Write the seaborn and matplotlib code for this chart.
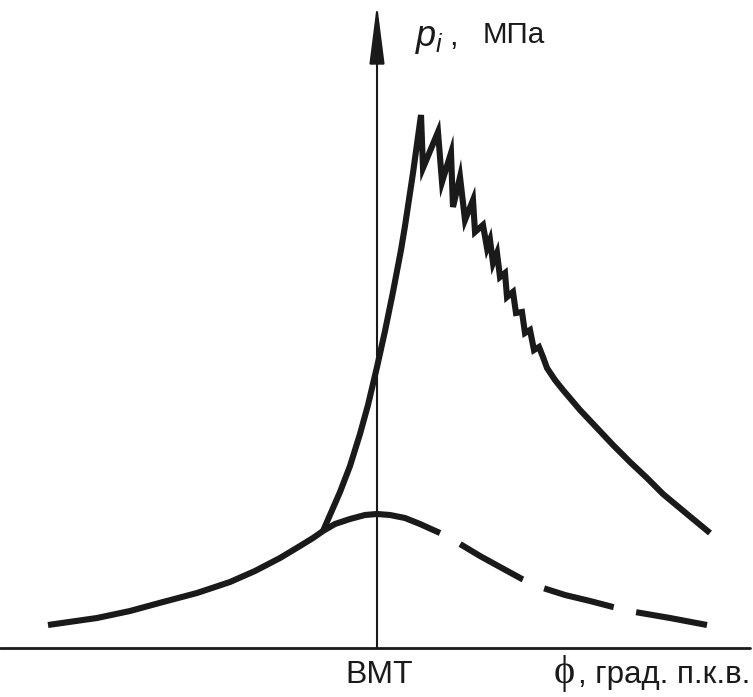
import matplotlib
matplotlib.use("Agg")
import matplotlib.pyplot as plt
import seaborn as sns
import pandas as pd

# ---- data: crank angle phi (deg from TDC), indicated pressure p (MPa) ----
# motoring (compression-expansion without combustion): solid part
motor_phi_solid = [-109.67, -93.33, -82.33, -71.33, -60.0, -49.0, -40.67, -32.33,
                   -25.67, -21.33, -18.0, -14.0, -9.0, -4.0, 0.0, 4.33, 9.33,
                   14.33, 21.0]
motor_p_solid = [0.46, 0.60, 0.74, 0.92, 1.10, 1.32, 1.54, 1.80,
                 2.04, 2.20, 2.34, 2.48, 2.58, 2.66, 2.68, 2.66, 2.60,
                 2.48, 2.30]
# motoring: dashed continuation
motor_phi_dash = [21.0, 27.67, 34.33, 41.0, 48.33, 55.33, 62.67, 71.0, 78.67,
                  86.0, 97.67, 110.0]
motor_p_dash = [2.30, 2.08, 1.84, 1.62, 1.38, 1.20, 1.06, 0.94, 0.82,
                0.72, 0.60, 0.46]

# firing cycle
comb_phi = [-18.0, -15.67, -12.33, -9.0, -5.67, -3.0, 0.0, 2.67, 5.33, 8.0,
            9.33, 12.0, 14.67,
            15.33, 20.33, 21.67, 24.67, 25.33, 27.67, 29.33, 32.0, 32.67,
            35.33, 36.67, 37.67, 38.67, 40.0, 41.0, 42.67, 43.33, 45.33,
            46.33, 48.33, 49.33, 51.0, 52.33, 54.0, 55.33,
            56.67, 59.33, 62.0, 67.67, 73.33, 78.67, 84.33, 90.0, 95.33,
            103.33, 111.0]
comb_p = [2.34, 2.66, 3.12, 3.64, 4.28, 4.86, 5.62, 6.34, 7.12, 7.96,
          8.44, 9.50, 10.66,
          9.60, 10.32, 9.32, 9.90, 8.82, 9.42, 8.56, 8.96, 8.32,
          8.46, 8.00, 8.16, 7.70, 7.90, 7.42, 7.50, 7.02, 7.12,
          6.70, 6.72, 6.30, 6.36, 5.96, 6.02, 5.82,
          5.60, 5.36, 5.16, 4.76, 4.40, 4.06, 3.72, 3.40, 3.08,
          2.68, 2.30]

# ---- style ----
sns.set_style("white")
plt.rcParams["font.family"] = ["Liberation Sans", "DejaVu Sans"]
plt.rcParams["mathtext.fontset"] = "custom"
plt.rcParams["mathtext.it"] = "Liberation Sans:italic"
plt.rcParams["mathtext.rm"] = "Liberation Sans"

W, H = 753, 697
fig = plt.figure(figsize=(W / 100, H / 100), dpi=100)
ax = fig.add_axes([0, 0, 1, 1])

# layout: TDC at x=377 px, 3 px/deg ; p=0 at y=648 px, 50 px/MPa
X0, SX, Y0, SY = 377, 3.0, 648, 50.0
ax.set_xlim((0 - X0) / SX, (W - X0) / SX)
ax.set_ylim((Y0 - H) / SY, Y0 / SY)
ax.axis("off")

lw = 4.4
color = "#1a1a1a"

df_ms = pd.DataFrame({"phi": motor_phi_solid, "p": motor_p_solid})
df_md = pd.DataFrame({"phi": motor_phi_dash, "p": motor_p_dash})
df_c = pd.DataFrame({"phi": comb_phi, "p": comb_p})

sns.lineplot(data=df_ms, x="phi", y="p", ax=ax, color=color, lw=lw,
             sort=False, estimator=None)
sns.lineplot(data=df_c, x="phi", y="p", ax=ax, color=color, lw=lw,
             sort=False, estimator=None)
sns.lineplot(data=df_md, x="phi", y="p", ax=ax, color=color, lw=lw,
             sort=False, estimator=None)
ax.lines[-1].set_linestyle((11.8, (11.8, 3.76)))
for l in ax.lines:
    l.set_solid_capstyle("butt")
    l.set_dash_capstyle("butt")
    l.set_solid_joinstyle("miter")
    l.set_dash_joinstyle("round")

# axes
ax.axhline(0, color=color, lw=2.0, xmin=0, xmax=750 / W)
ax.annotate("", xy=(0, (Y0 - 4) / SY), xytext=(0, 0),
            arrowprops=dict(arrowstyle="-|>,head_length=3.7,head_width=0.47",
                            mutation_scale=10, lw=1.5, color=color,
                            shrinkA=0, shrinkB=0))

# y-axis label
ax.text((415 - X0) / SX, (Y0 - 46) / SY, r"$p_i$", fontsize=26,
        color=color, ha="left", va="baseline")
ax.text((449 - X0) / SX, (Y0 - 45) / SY, ",", fontsize=22,
        color=color, ha="left", va="baseline")
ax.text((483 - X0) / SX, (Y0 - 43) / SY, "МПа", fontsize=21.3,
        color=color, ha="left", va="baseline")

# x-axis labels
ax.text((379.5 - X0) / SX, (Y0 - 683) / SY, "ВМТ", fontsize=23,
        color=color, ha="center", va="baseline")
ax.text((554 - X0) / SX, (Y0 - 683) / SY, "\u03d5", fontsize=29,
        color=color, ha="left", va="baseline",
        family=["Liberation Serif", "DejaVu Serif"])
ax.text((750 - X0) / SX, (Y0 - 683) / SY, ", град. п.к.в.", fontsize=22.5,
        color=color, ha="right", va="baseline")

fig.savefig("out.png", dpi=100, facecolor="white")
